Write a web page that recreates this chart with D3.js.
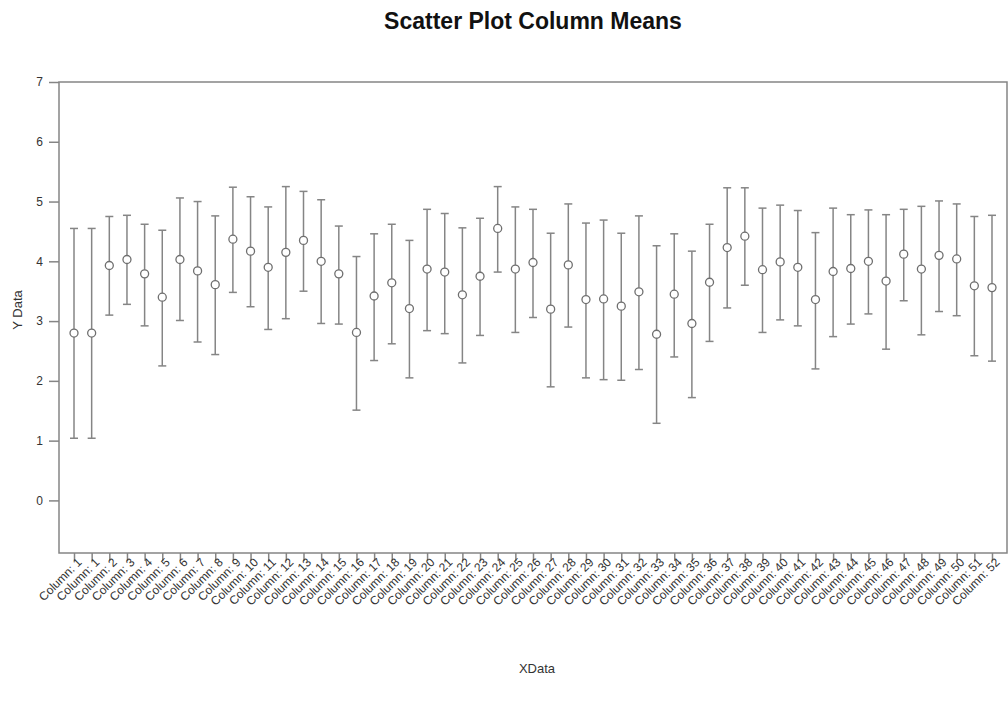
<!DOCTYPE html>
<html>
<head>
<meta charset="utf-8">
<script src="https://cdn.jsdelivr.net/npm/d3@7"></script>
<style>
  body { margin: 0; background: #fff; }
  #chart { width: 1008px; height: 704px; }
  text { font-family: "Liberation Sans", Arial, sans-serif; }
</style>
</head>
<body>
<div id="chart"></div>
<script>
// Column labels (the first column appears twice in the source chart)
const labels = ["Column: 1", "Column: 1"].concat(
  d3.range(2, 53).map((i) => "Column: " + i)
);

// Column means
const means = [
  2.80, 2.80, 3.93, 4.03, 3.79, 3.40, 4.03, 3.84, 3.61, 4.37,
  4.17, 3.90, 4.15, 4.35, 4.00, 3.79, 2.81, 3.42, 3.64, 3.21,
  3.87, 3.82, 3.44, 3.75, 4.55, 3.87, 3.98, 3.20, 3.94, 3.36,
  3.37, 3.25, 3.49, 2.78, 3.45, 2.96, 3.65, 4.23, 4.42, 3.86,
  3.99, 3.90, 3.36, 3.83, 3.88, 4.00, 3.67, 4.12, 3.87, 4.10,
  4.04, 3.59, 3.56
];

// Upper end of each error bar
const upper = [
  4.55, 4.55, 4.75, 4.77, 4.62, 4.52, 5.06, 5.00, 4.76, 5.24,
  5.08, 4.91, 5.25, 5.17, 5.03, 4.59, 4.08, 4.46, 4.62, 4.35,
  4.87, 4.80, 4.56, 4.72, 5.25, 4.91, 4.87, 4.47, 4.96, 4.64,
  4.69, 4.47, 4.76, 4.26, 4.46, 4.17, 4.62, 5.23, 5.23, 4.89,
  4.94, 4.85, 4.48, 4.89, 4.78, 4.86, 4.78, 4.87, 4.92, 5.01,
  4.96, 4.75, 4.77
];

// Lower end of each error bar
const lower = [
  1.04, 1.04, 3.10, 3.28, 2.92, 2.25, 3.01, 2.65, 2.44, 3.48,
  3.24, 2.86, 3.04, 3.50, 2.96, 2.95, 1.51, 2.34, 2.62, 2.05,
  2.84, 2.79, 2.30, 2.76, 3.82, 2.81, 3.06, 1.90, 2.90, 2.05,
  2.02, 2.01, 2.19, 1.29, 2.40, 1.72, 2.66, 3.22, 3.60, 2.81,
  3.02, 2.92, 2.20, 2.74, 2.95, 3.12, 2.53, 3.34, 2.77, 3.16,
  3.09, 2.42, 2.33
];

const yTicks = [0, 1, 2, 3, 4, 5, 6, 7];

const data = labels.map((label, i) => ({
  key: i,
  label: label,
  mean: means[i],
  hi: upper[i],
  lo: lower[i],
}));

const margin = { top: 82, right: 1, bottom: 151, left: 59 };
const totalW = 1008, totalH = 704;
const width = totalW - margin.left - margin.right;
const height = totalH - margin.top - margin.bottom;
const lineColor = "#858585";
const textColor = "#333";

const svg = d3
  .select("#chart")
  .append("svg")
  .attr("width", totalW)
  .attr("height", totalH);

const g = svg
  .append("g")
  .attr("transform", "translate(" + margin.left + "," + margin.top + ")");

// Scales
const x = d3
  .scalePoint()
  .domain(data.map((d) => d.key))
  .range([0, width])
  .padding(0.85);

const y = d3.scaleLinear().domain([-0.88, 7]).range([height, 0]);

// Frame
g.append("rect")
  .attr("x", 0)
  .attr("y", 0)
  .attr("width", width)
  .attr("height", height)
  .style("fill", "none")
  .style("stroke", lineColor)
  .style("stroke-width", 1.5);

// Y axis
const yAxis = g
  .append("g")
  .call(d3.axisLeft(y).tickValues(yTicks).tickSize(10).tickPadding(6));
yAxis.select(".domain").remove();
yAxis.selectAll("line").style("stroke", lineColor).style("stroke-width", 1.5);
yAxis
  .selectAll("text")
  .style("font-family", "Liberation Sans, Arial, sans-serif")
  .style("font-size", "12px")
  .style("fill", textColor);

// X axis
const xAxis = g
  .append("g")
  .attr("transform", "translate(0," + height + ")")
  .call(
    d3
      .axisBottom(x)
      .tickSize(8)
      .tickFormat((k) => labels[k])
  );
xAxis.select(".domain").remove();
xAxis.selectAll("line").style("stroke", lineColor).style("stroke-width", 1.5);
xAxis
  .selectAll("text")
  .attr("transform", "translate(5,7) rotate(-45)")
  .attr("dy", "0.35em")
  .attr("y", 0)
  .attr("x", 0)
  .style("text-anchor", "end")
  .style("font-family", "Liberation Sans, Arial, sans-serif")
  .style("font-size", "12px")
  .style("fill", textColor);

// Error bars
const bars = g.append("g").selectAll("g").data(data).enter().append("g");

bars
  .append("line")
  .attr("x1", (d) => x(d.key))
  .attr("x2", (d) => x(d.key))
  .attr("y1", (d) => y(d.hi))
  .attr("y2", (d) => y(d.lo))
  .style("stroke", lineColor)
  .style("stroke-width", 1.5);

bars
  .selectAll(".cap")
  .data((d) => [
    { k: d.key, v: d.hi },
    { k: d.key, v: d.lo },
  ])
  .enter()
  .append("line")
  .attr("class", "cap")
  .attr("x1", (c) => x(c.k) - 4)
  .attr("x2", (c) => x(c.k) + 4)
  .attr("y1", (c) => y(c.v))
  .attr("y2", (c) => y(c.v))
  .style("stroke", lineColor)
  .style("stroke-width", 1.5);

// Mean points
bars
  .append("circle")
  .attr("cx", (d) => x(d.key))
  .attr("cy", (d) => y(d.mean))
  .attr("r", 4)
  .style("fill", "#fff")
  .style("stroke", "#6f6f6f")
  .style("stroke-width", 1.3);

// Titles
svg
  .append("text")
  .attr("x", 533)
  .attr("y", 29)
  .attr("text-anchor", "middle")
  .style("font-size", "23px")
  .style("font-weight", "bold")
  .style("fill", "#111")
  .text("Scatter Plot Column Means");

svg
  .append("text")
  .attr("x", 537)
  .attr("y", 673)
  .attr("text-anchor", "middle")
  .style("font-size", "13px")
  .style("fill", textColor)
  .text("XData");

svg
  .append("text")
  .attr("transform", "translate(22,310) rotate(-90)")
  .attr("text-anchor", "middle")
  .style("font-size", "13px")
  .style("fill", textColor)
  .text("Y Data");
</script>
</body>
</html>
